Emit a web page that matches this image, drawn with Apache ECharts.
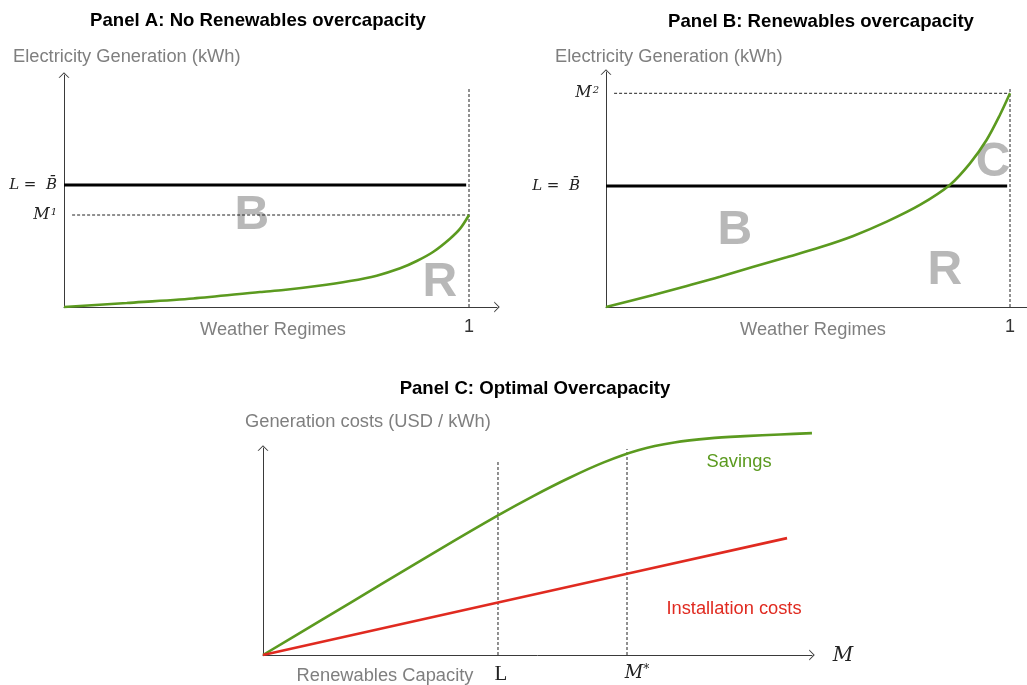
<!DOCTYPE html>
<html>
<head>
<meta charset="utf-8">
<script src="https://cdn.jsdelivr.net/npm/echarts@6/dist/echarts.min.js"></script>
<style>html,body{margin:0;padding:0;background:#fff}#c{width:1027px;height:685px}</style>
</head>
<body>
<div id="c"></div>
<script>
// ---------- data ----------
// Panel A: renewables generation across weather regimes (no overcapacity)
const aX = [0, 0.155, 0.319, 0.484, 0.542, 0.624, 0.706, 0.772, 0.830, 0.871, 0.912, 0.953, 0.978, 1.0];
const aY = [0, 0.033, 0.070, 0.123, 0.139, 0.172, 0.213, 0.257, 0.317, 0.377, 0.453, 0.560, 0.642, 0.754];
// Panel B: with overcapacity
const bX = [0, 0.117, 0.200, 0.282, 0.365, 0.447, 0.530, 0.612, 0.695, 0.777, 0.851, 0.901, 0.942, 0.975, 1.0];
const bY = [0, 0.099, 0.174, 0.250, 0.333, 0.411, 0.493, 0.587, 0.705, 0.843, 1.008, 1.187, 1.380, 1.587, 1.766];
// Panel C: savings and installation costs vs renewables capacity
const cX = [0, 0.25, 0.5, 0.75, 1.0, 1.15, 1.3, 1.45, 1.6, 1.75, 1.9, 2.05, 2.2, 2.336];
const savingsY = [0, 0.355, 0.71, 1.065, 1.41, 1.605, 1.785, 1.945, 2.07, 2.145, 2.187, 2.21, 2.227, 2.24];
const costX = [0, 1.0, 1.549, 2.230];
const costY = [0, 0.53, 0.82, 1.18];
// reference levels
const levelL = 1;          // L = B-bar
const levelM1 = 0.754;     // M^1
const levelM2 = 1.766;     // M^2
const regimeEnd = 1;       // weather regime 1
const capL = 1;            // L on capacity axis
const capMStar = 1.549;    // M*
// labels
const labelL = 'L =  B\u0304';
const labelM1 = ['M', '1'];
const labelM2 = ['M', '2'];
const xLabelEnd = '1';
// letters (area annotations) [x, y, text]
const lettersA = [[0.464, 0.75, 'B'], [0.928, 0.2, 'R']];
const lettersB = [[0.319, 0.63, 'B'], [0.839, 0.3, 'R'], [0.958, 1.19, 'C']];

// ---------- helpers ----------
const zip = (xs, ys) => xs.map((x, i) => [x, ys[i]]);
const GREEN = '#5b9a1f', RED = '#e02a20', AXIS = '#3a3a3a', DASH = '#222', GRAY = '#7f7f7f', LETTER = '#a6a6a6';
const SANS = '"Liberation Sans", Arial, sans-serif';
const SERIF = '"DejaVu Serif", serif';
const chevron = 'path://M0,50 L50,0 L100,50 L89,50 L50,12 L11,50 Z';
const mathRich = {
  p: { fontFamily: SERIF, fontStyle: 'italic', fontSize: 15, color: '#222', padding: [0, 19, 0, 0] },
  q: { fontFamily: SERIF, fontStyle: 'italic', fontSize: 15, color: '#222' },
  m: { fontFamily: SERIF, fontStyle: 'italic', fontSize: 16, color: '#222' },
  s: { fontFamily: SERIF, fontSize: 10, color: '#222', verticalAlign: 'top', padding: [0, 0, 0, 1] }
};
const sup = pair => '{m|' + pair[0] + '}{s|' + pair[1] + '}';

function axisLine(noArrow) {
  return { show: true, symbol: ['none', noArrow ? 'none' : chevron], symbolSize: [11, 6], lineStyle: { color: AXIS, width: 1 } };
}
function xAxis(grid, max, labelVals, fmt, labelStyle, noArrow) {
  return {
    type: 'value', gridIndex: grid, min: 0, max: max,
    axisLine: axisLine(noArrow), splitLine: { show: false }, axisTick: { show: false },
    axisLabel: Object.assign({ show: !!labelVals, customValues: labelVals || [], formatter: fmt, margin: 11,
      color: '#333', fontSize: 18, fontFamily: SANS }, labelStyle || {})
  };
}
function yAxis(grid, max, labelVals, fmt) {
  return {
    type: 'value', gridIndex: grid, min: 0, max: max,
    axisLine: axisLine(), splitLine: { show: false }, axisTick: { show: false },
    axisLabel: { show: !!labelVals, customValues: labelVals || [], formatter: fmt, margin: 7,
      color: '#222', fontSize: 15, fontFamily: SERIF, fontStyle: 'italic', rich: mathRich }
  };
}
function line(xi, data, color, width, dashed) {
  return {
    type: 'line', xAxisIndex: xi, yAxisIndex: xi, data: data, showSymbol: false, symbol: 'none',
    clip: false, silent: true, lineStyle: { color: color, width: width, type: dashed ? [3, 2] : 'solid' }
  };
}
function curve(xi, data, color) {
  const s = line(xi, data, color, 2.6, false);
  s.smooth = 0.3;
  return s;
}
function letters(xi, data) {
  return {
    type: 'scatter', xAxisIndex: xi, yAxisIndex: xi, data: data, symbolSize: 1, silent: true,
    itemStyle: { color: 'rgba(0,0,0,0)' },
    label: { show: true, position: 'inside', formatter: p => p.data[2], color: LETTER,
      fontSize: 48, fontWeight: 'bold', fontFamily: SANS }
  };
}
function txt(text, x, y, opts) {
  const o = opts || {};
  return {
    type: 'text', x: x, y: y, silent: true,
    style: { text: text, fill: o.color || GRAY, fontSize: o.size || 18.3, fontFamily: o.family || SANS,
      fontWeight: o.weight || 'normal', fontStyle: o.style || 'normal',
      align: o.align || 'center', textAlign: o.align || 'center',
      verticalAlign: 'middle', textVerticalAlign: 'middle' }
  };
}

const chart = echarts.init(document.getElementById('c'), null, { renderer: 'canvas' });
const option = {
  animation: false,
  backgroundColor: '#fff',
  grid: [
    { left: 64, top: 75, width: 433, height: 232 },
    { left: 606, top: 72, width: 421, height: 235 },
    { left: 263, top: 448, width: 549, height: 209 }
  ],
  xAxis: [
    xAxis(0, 1.0691, [regimeEnd], () => xLabelEnd),
    xAxis(1, 421 / 404, [regimeEnd], () => xLabelEnd, null, true),
    xAxis(2, 2.3362, [capL, capMStar], v => (v === capL ? '{l|L}' : '{m|M}{s|*}'), {
      margin: 9,
      rich: {
        l: { fontFamily: '"Liberation Serif", serif', fontSize: 21, color: '#222', padding: [0, 0, 0, 6] },
        m: { fontFamily: SERIF, fontStyle: 'italic', fontSize: 18, color: '#222', padding: [0, 0, 0, 20] },
        s: { fontFamily: SERIF, fontSize: 12, color: '#222', verticalAlign: 'top' }
      }
    })
  ],
  yAxis: [
    yAxis(0, 1.9016, [levelL, levelM1], v => (v === levelL ? '{q|' + labelL + '}' : sup(labelM1))),
    yAxis(1, 1.9421, [levelL, levelM2], v => (v === levelL ? '{p|' + labelL + '}' : sup(labelM2))),
    { type: 'value', gridIndex: 2, min: 0, max: 2.09, axisLine: axisLine(), splitLine: { show: false },
      axisTick: { show: false }, axisLabel: { show: false } }
  ],
  series: [
    // Panel A
    line(0, [[0.02, levelM1], [regimeEnd, levelM1]], DASH, 1, true),
    line(0, [[regimeEnd, 0], [regimeEnd, 1.803]], DASH, 1, true),
    line(0, [[0, levelL], [0.993, levelL]], '#000', 3, false),
    curve(0, zip(aX, aY), GREEN),
    letters(0, lettersA),
    // Panel B
    line(1, [[0.02, levelM2], [regimeEnd, levelM2]], DASH, 1, true),
    line(1, [[regimeEnd, 0], [regimeEnd, 1.818]], DASH, 1, true),
    line(1, [[0, levelL], [0.993, levelL]], '#000', 3, false),
    curve(1, zip(bX, bY), GREEN),
    letters(1, lettersB),
    // Panel C
    line(2, [[capL, 0], [capL, 1.95]], DASH, 1, true),
    line(2, [[capMStar, 0], [capMStar, 2.08]], DASH, 1, true),
    curve(2, zip(cX, savingsY), GREEN),
    line(2, zip(costX, costY), RED, 2.6, false)
  ],
  graphic: [
    txt('Panel A: No Renewables overcapacity', 258, 21, { color: '#000', weight: 'bold', size: 18.6 }),
    txt('Panel B: Renewables overcapacity', 821, 22, { color: '#000', weight: 'bold', size: 18.6 }),
    txt('Panel C: Optimal Overcapacity', 535, 389, { color: '#000', weight: 'bold', size: 18.6 }),
    txt('Electricity Generation (kWh)', 13, 57, { align: 'left' }),
    txt('Electricity Generation (kWh)', 555, 57, { align: 'left' }),
    txt('Weather Regimes', 273, 330),
    txt('Weather Regimes', 813, 330),
    txt('Generation costs (USD / kWh)', 245, 422, { align: 'left' }),
    txt('Renewables Capacity', 385, 676),
    txt('Savings', 739, 462, { color: GREEN }),
    txt('Installation costs', 734, 609, { color: RED }),
    txt('M', 843, 656, { color: '#222', family: SERIF, style: 'italic', size: 20 })
  ]
};
chart.setOption(option);
</script>
</body>
</html>
